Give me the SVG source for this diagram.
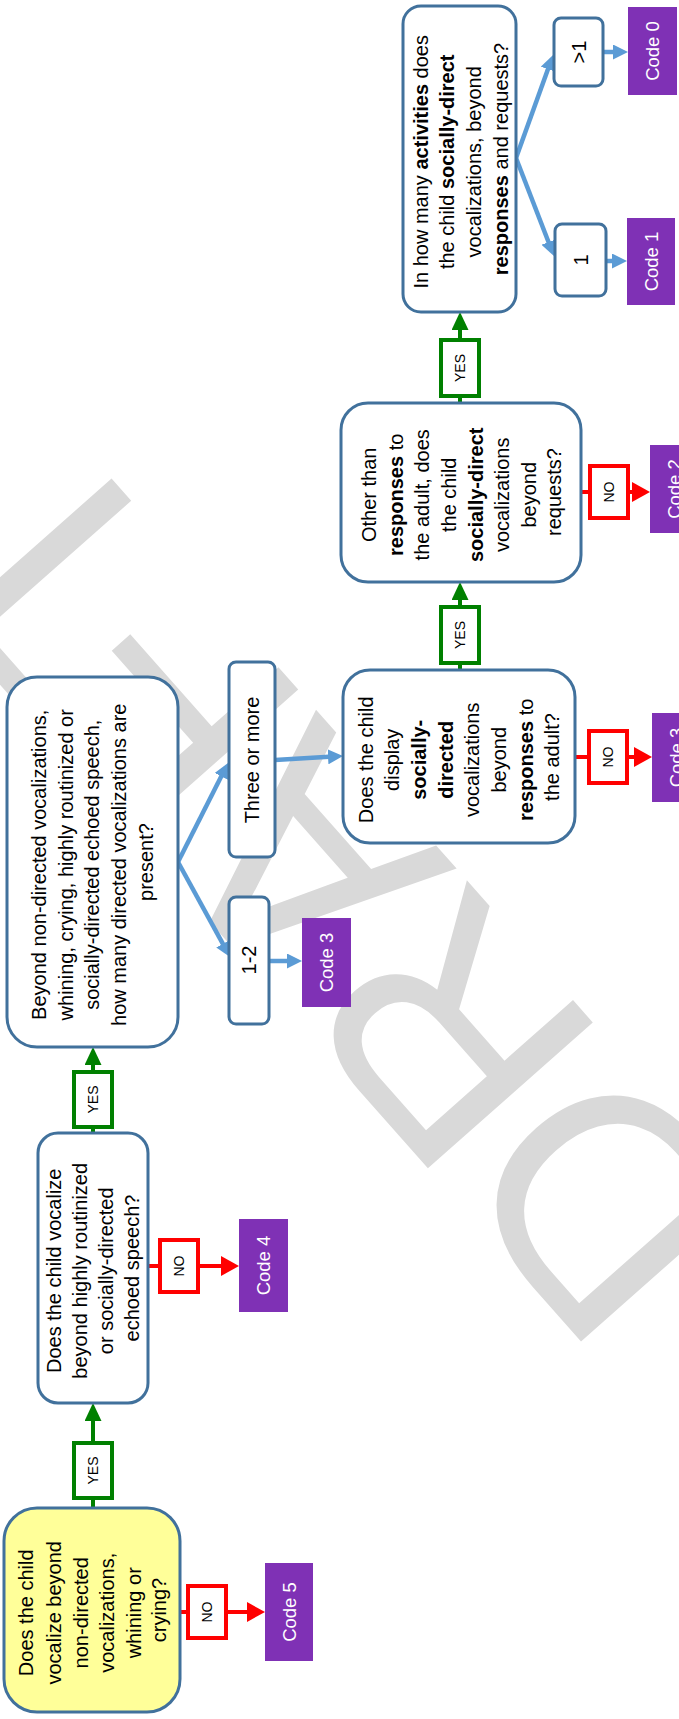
<svg xmlns="http://www.w3.org/2000/svg" width="679" height="1719" viewBox="0 0 679 1719">
<style>
.bg{fill:#ffffff}
.wm{font-family:"Liberation Sans",Arial,sans-serif;font-size:320px;fill:#D9D9D9;font-kerning:none}
.box{fill:#ffffff;stroke:#41719C;stroke-width:3}
.yel{fill:#FFFF99}
.t{font-family:"Liberation Sans",Arial,sans-serif;font-size:20px;fill:#000000;text-anchor:middle}
.b{font-weight:bold}
.code{fill:#7F31B5}
.ct{font-family:"Liberation Sans",Arial,sans-serif;font-size:18.5px;fill:#ffffff;text-anchor:middle}
.lt{font-family:"Liberation Sans",Arial,sans-serif;font-size:14px;fill:#000000;text-anchor:middle}
.g{stroke:#008000;stroke-width:4;fill:none}
.r{stroke:#FF0000;stroke-width:4;fill:none}
.bl{stroke:#5B9BD5;stroke-width:4.5;fill:none}
.gbox{fill:#ffffff;stroke:#008000;stroke-width:4}
.rbox{fill:#ffffff;stroke:#FF0000;stroke-width:4}
</style>
<defs>
<marker id="ahG" markerUnits="userSpaceOnUse" markerWidth="18" markerHeight="17" refX="1" refY="8.5" orient="auto"><path d="M0,0 L18,8.5 L0,17 z" fill="#008000"/></marker>
<marker id="ahR" markerUnits="userSpaceOnUse" markerWidth="18" markerHeight="20" refX="1" refY="10" orient="auto"><path d="M0,0 L18,10 L0,20 z" fill="#FF0000"/></marker>
<marker id="ahB" markerUnits="userSpaceOnUse" markerWidth="15" markerHeight="15" refX="1" refY="7.5" orient="auto"><path d="M0,0 L15,7.5 L0,15 z" fill="#5B9BD5"/></marker>
</defs>
<rect class="bg" x="0" y="0" width="679" height="1719"/>
<g id="watermark">
<text class="wm" transform="translate(763.3,1215.2) rotate(-131.5)">DRAFT</text>
</g>
<g id="connectors">
<line class="g" x1="93" y1="1508" x2="93" y2="1420" marker-end="url(#ahG)"/>
<line class="g" x1="93" y1="1133" x2="93" y2="1064" marker-end="url(#ahG)"/>
<line class="g" x1="460" y1="670" x2="460" y2="599" marker-end="url(#ahG)"/>
<line class="g" x1="460" y1="403" x2="460" y2="329" marker-end="url(#ahG)"/>
<line class="r" x1="180" y1="1612" x2="248" y2="1612" marker-end="url(#ahR)"/>
<line class="r" x1="148" y1="1266" x2="222" y2="1266" marker-end="url(#ahR)"/>
<line class="r" x1="575" y1="757" x2="635" y2="757" marker-end="url(#ahR)"/>
<line class="r" x1="581" y1="492" x2="633" y2="492" marker-end="url(#ahR)"/>
<line class="bl" x1="178" y1="862" x2="223.3" y2="944.7" marker-end="url(#ahB)"/>
<line class="bl" x1="178" y1="862" x2="221.7" y2="775.5" marker-end="url(#ahB)"/>
<line class="bl" x1="269" y1="961" x2="288" y2="961" marker-end="url(#ahB)"/>
<line class="bl" x1="275" y1="760" x2="329" y2="756.8" marker-end="url(#ahB)"/>
<line class="bl" x1="516" y1="158" x2="548.3" y2="68.2" marker-end="url(#ahB)"/>
<line class="bl" x1="516" y1="158" x2="548.9" y2="243" marker-end="url(#ahB)"/>
<line class="bl" x1="603" y1="52" x2="614" y2="52" marker-end="url(#ahB)"/>
<line class="bl" x1="606" y1="261" x2="613" y2="261" marker-end="url(#ahB)"/>
<g id="yes1"><rect class="gbox" x="74" y="1443" width="38" height="55"/><text class="lt" transform="rotate(-90)" x="-1470.5" y="98">YES</text></g>
<g id="yes2"><rect class="gbox" x="74" y="1072" width="38" height="55"/><text class="lt" transform="rotate(-90)" x="-1099.5" y="98">YES</text></g>
<g id="yes3"><rect class="gbox" x="441" y="607" width="38" height="56"/><text class="lt" transform="rotate(-90)" x="-635" y="465">YES</text></g>
<g id="yes4"><rect class="gbox" x="441" y="340" width="38" height="56"/><text class="lt" transform="rotate(-90)" x="-368" y="465">YES</text></g>
<g id="no1"><rect class="rbox" x="188" y="1586" width="38" height="52"/><text class="lt" transform="rotate(-90)" x="-1612" y="212">NO</text></g>
<g id="no2"><rect class="rbox" x="160" y="1240" width="38" height="52"/><text class="lt" transform="rotate(-90)" x="-1266" y="184">NO</text></g>
<g id="no3"><rect class="rbox" x="589" y="731" width="38" height="52"/><text class="lt" transform="rotate(-90)" x="-757" y="613">NO</text></g>
<g id="no4"><rect class="rbox" x="590" y="466" width="38" height="52"/><text class="lt" transform="rotate(-90)" x="-492" y="614">NO</text></g>
</g>
<g id="q1">
<rect class="box yel" x="4" y="1508" width="176" height="204" rx="33"/>
<text class="t" transform="rotate(-90)">
<tspan x="-1610" y="33">Does the child</tspan>
<tspan x="-1610" y="61">vocalize beyond</tspan>
<tspan x="-1610" y="88">non-directed</tspan>
<tspan x="-1610" y="114">vocalizations,</tspan>
<tspan x="-1610" y="141">whining or</tspan>
<tspan x="-1610" y="166">crying?</tspan>
</text>
</g>
<g id="q2">
<rect class="box" x="38" y="1133" width="110" height="270" rx="20"/>
<text class="t" transform="rotate(-90)">
<tspan x="-1268" y="61">Does the child vocalize</tspan>
<tspan x="-1268" y="87">beyond highly routinized</tspan>
<tspan x="-1268" y="113">or socially-directed</tspan>
<tspan x="-1268" y="139">echoed speech?</tspan>
</text>
</g>
<g id="q3">
<rect class="box" x="7" y="677" width="171" height="370" rx="30"/>
<text class="t" transform="rotate(-90)">
<tspan x="-862" y="46">Beyond non-directed vocalizations,</tspan>
<tspan x="-862" y="73">whining, crying, highly routinized or</tspan>
<tspan x="-862" y="99">socially-directed echoed speech,</tspan>
<tspan x="-862" y="126">how many directed vocalizations are</tspan>
<tspan x="-862" y="153">present?</tspan>
</text>
</g>
<g id="a12">
<rect class="box" x="229" y="897" width="40" height="127" rx="7"/>
<text class="t" transform="rotate(-90)" x="-960" y="256">1-2</text>
</g>
<g id="a3m">
<rect class="box" x="229" y="662" width="46" height="195" rx="7"/>
<text class="t" transform="rotate(-90)" x="-760" y="259">Three or more</text>
</g>
<g id="q4">
<rect class="box" x="343" y="670" width="232" height="173" rx="27"/>
<text class="t" transform="rotate(-90)">
<tspan x="-757" y="373">Does the child</tspan>
<tspan x="-757" y="399">display</tspan>
<tspan x="-757" y="426" class="b">socially-</tspan>
<tspan x="-757" y="453" class="b">directed</tspan>
<tspan x="-757" y="479">vocalizations</tspan>
<tspan x="-757" y="506">beyond</tspan>
<tspan x="-757" y="533"><tspan class="b">responses</tspan> to</tspan>
<tspan x="-757" y="559">the adult?</tspan>
</text>
</g>
<g id="q5">
<rect class="box" x="341" y="403" width="240" height="179" rx="27"/>
<text class="t" transform="rotate(-90)">
<tspan x="-492" y="376">Other than</tspan>
<tspan x="-492" y="403"><tspan class="b">responses</tspan> to</tspan>
<tspan x="-492" y="429">the adult, does</tspan>
<tspan x="-492" y="456">the child</tspan>
<tspan x="-492" y="483" class="b">socially-direct</tspan>
<tspan x="-492" y="509">vocalizations</tspan>
<tspan x="-492" y="536">beyond</tspan>
<tspan x="-492" y="561">requests?</tspan>
</text>
</g>
<g id="q6">
<rect class="box" x="403" y="6" width="113" height="306" rx="18"/>
<text class="t" transform="rotate(-90)">
<tspan x="-159" y="428">In how many <tspan class="b">activities</tspan> does</tspan>
<tspan x="-159" y="454">the child <tspan class="b">socially-direct</tspan></tspan>
<tspan x="-159" y="481">vocalizations, beyond</tspan>
<tspan x="-159" y="508"><tspan class="b">responses</tspan> and requests?</tspan>
</text>
</g>
<g id="agt1">
<rect class="box" x="554" y="18" width="49" height="68" rx="7"/>
<text class="t" transform="rotate(-90)" x="-52" y="586">&gt;1</text>
</g>
<g id="a1">
<rect class="box" x="555" y="224" width="51" height="72" rx="7"/>
<text class="t" transform="rotate(-90)" x="-260" y="588">1</text>
</g>
<g id="code0"><rect class="code" x="628" y="7" width="49" height="88"/><text class="ct" transform="rotate(-90)" x="-51" y="659">Code 0</text></g>
<g id="code1"><rect class="code" x="627" y="218" width="48" height="87"/><text class="ct" transform="rotate(-90)" x="-261.5" y="658">Code 1</text></g>
<g id="code2"><rect class="code" x="650" y="445" width="49" height="88"/><text class="ct" transform="rotate(-90)" x="-489" y="681">Code 2</text></g>
<g id="code3b"><rect class="code" x="652" y="713" width="49" height="89"/><text class="ct" transform="rotate(-90)" x="-757.5" y="683">Code 3</text></g>
<g id="code3a"><rect class="code" x="302" y="918" width="49" height="89"/><text class="ct" transform="rotate(-90)" x="-962.5" y="333">Code 3</text></g>
<g id="code4"><rect class="code" x="239" y="1219" width="49" height="93"/><text class="ct" transform="rotate(-90)" x="-1265.5" y="270">Code 4</text></g>
<g id="code5"><rect class="code" x="265" y="1563" width="48" height="98"/><text class="ct" transform="rotate(-90)" x="-1612" y="296">Code 5</text></g>
</svg>
